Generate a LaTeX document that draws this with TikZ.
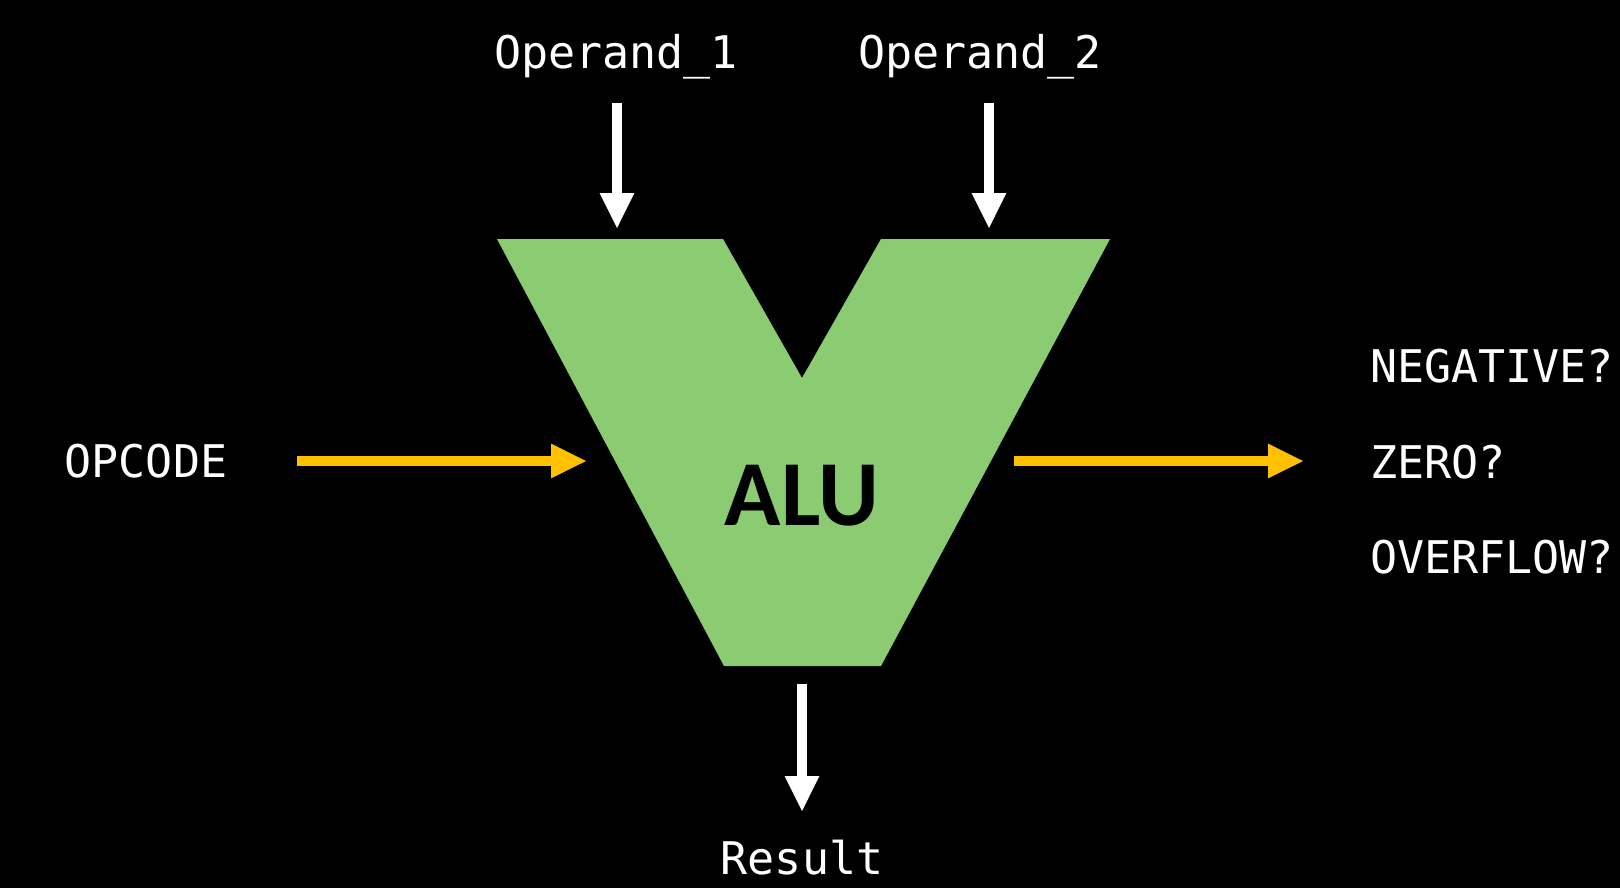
\documentclass[tikz,border=0pt]{standalone}
\usepackage{fontspec}
\setmainfont{Carlito}
\setmonofont{DejaVu Sans Mono}
\usepackage{tikz}
\usetikzlibrary{arrows.meta}
\usetikzlibrary{positioning,calc}
\definecolor{aluGreen}{HTML}{8BCC72}
\definecolor{ctrlGold}{HTML}{FFC000}

\tikzset{
	bus/.style={line width=10pt, -{Triangle[length=36pt,width=32pt]}},
	sig/.style={text=white, inner sep=0pt, font=\ttfamily\fontsize{45}{54}\selectfont},
}

\begin{document}
\begin{tikzpicture}[x=1pt,y=-1pt]
			\fill[black] (0,0) rectangle (1620,888);
			\useasboundingbox (0,0) rectangle (1620,888);
			% the ALU body
			\fill[aluGreen] (497,239) -- (723,239) -- (802,378) -- (881,239) -- (1110,239)
				-- (881,666) -- (724,666) -- cycle;
			\node[inner sep=0pt, anchor=base, font=\bfseries\fontsize{93}{100}\selectfont] (alu) at (802,525) {ALU};
			% labels
			\node[sig, anchor=base] (opA) at (616,69) {Operand\_1};
			\node[sig, anchor=base] (opB) at (980,69) {Operand\_2};
			\node[sig, anchor=base] (opc) at (146,477) {OPCODE};
			\node[sig, anchor=base] (res) at (802,874) {Result};
			\node[sig, anchor=base west] (neg) at (1370,382) {NEGATIVE?};
			\node[sig, anchor=base west] (zer) at (1370,478) {ZERO?};
			\node[sig, anchor=base west] (ovf) at (1370,573) {OVERFLOW?};
			% arrow ends
			\coordinate (opAin) at (617,103);  \coordinate (opAout) at (617,229);
			\coordinate (opBin) at (989,103);  \coordinate (opBout) at (989,229);
			\coordinate (resIn) at (802,684);  \coordinate (resOut) at (802,812);
			\coordinate (opcIn) at (297,461);  \coordinate (opcOut) at (587,461);
			\coordinate (flgIn) at (1014,461); \coordinate (flgOut) at (1304,461);
			\draw[bus, white] (opAin) -- (opAout);
			\draw[bus, white] (opBin) -- (opBout);
			\draw[bus, white] (resIn) -- (resOut);
			\draw[bus, ctrlGold] (opcIn) -- (opcOut);
			\draw[bus, ctrlGold] (flgIn) -- (flgOut);
		\end{tikzpicture}
\end{document}
